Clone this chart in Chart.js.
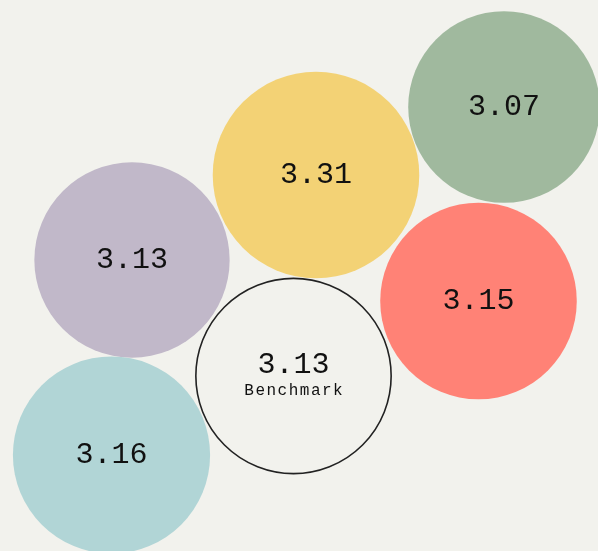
<!DOCTYPE html>
<html>
<head>
<meta charset="utf-8">
<script src="https://cdn.jsdelivr.net/npm/chart.js@4"></script>
<style>
  html, body { margin: 0; padding: 0; background: #f2f2ed; }
  #wrap { width: 598px; height: 551px; position: relative; }
</style>
</head>
<body>
<div id="wrap"><canvas id="c"></canvas></div>
<script>
// Data
const labels = ["A", "B", "C", "D", "E", "Benchmark"];
const values = [3.07, 3.31, 3.13, 3.15, 3.16, 3.13];
// packed layout positions (abstract layout units)
const posX = [504, 316, 132, 478.5, 111.5, 293.5];
const posY = [107, 175, 260, 301, 455, 376];
const colors = ["#a0b99e", "#f3d275", "#c1b8c9", "#ff8276", "#b1d5d6", "rgba(0,0,0,0)"];
const benchmarkIndex = 5;
const radiusPerUnit = 31.2;

const points = values.map((v, i) => ({ x: posX[i], y: posY[i], r: v * radiusPerUnit }));

const labelPlugin = {
  id: 'bubbleLabels',
  afterDatasetsDraw(chart) {
    const ctx = chart.ctx;
    const meta = chart.getDatasetMeta(0);
    ctx.save();
    ctx.fillStyle = '#111';
    ctx.textAlign = 'center';
    ctx.textBaseline = 'middle';
    meta.data.forEach((el, i) => {
      const txt = values[i].toFixed(2);
      if (i === benchmarkIndex) {
        ctx.font = '30px "Liberation Mono", monospace';
        ctx.letterSpacing = '0px';
        ctx.fillText(txt, el.x, el.y - 11);
        ctx.font = '16px "Liberation Mono", monospace';
        ctx.letterSpacing = '1.5px';
        ctx.fillText(labels[i], el.x + 0.75, el.y + 15);
        ctx.letterSpacing = '0px';
      } else {
        ctx.font = '30px "Liberation Mono", monospace';
        ctx.fillText(txt, el.x, el.y);
      }
    });
    ctx.restore();
  }
};

new Chart(document.getElementById('c'), {
  type: 'bubble',
  data: {
    labels: labels,
    datasets: [{
      data: points,
      backgroundColor: colors,
      borderColor: colors.map((c, i) => i === benchmarkIndex ? '#222222' : c),
      borderWidth: colors.map((c, i) => i === benchmarkIndex ? 1.6 : 0),
      hoverBorderWidth: colors.map((c, i) => i === benchmarkIndex ? 1.6 : 0),
      clip: false
    }]
  },
  options: {
    responsive: true,
    maintainAspectRatio: false,
    animation: false,
    events: [],
    layout: { padding: 0, autoPadding: false },
    plugins: { legend: { display: false }, tooltip: { enabled: false } },
    scales: {
      x: { type: 'linear', min: 0, max: 598, display: false },
      y: { type: 'linear', min: 0, max: 551, reverse: true, display: false }
    }
  },
  plugins: [labelPlugin]
});
</script>
</body>
</html>
